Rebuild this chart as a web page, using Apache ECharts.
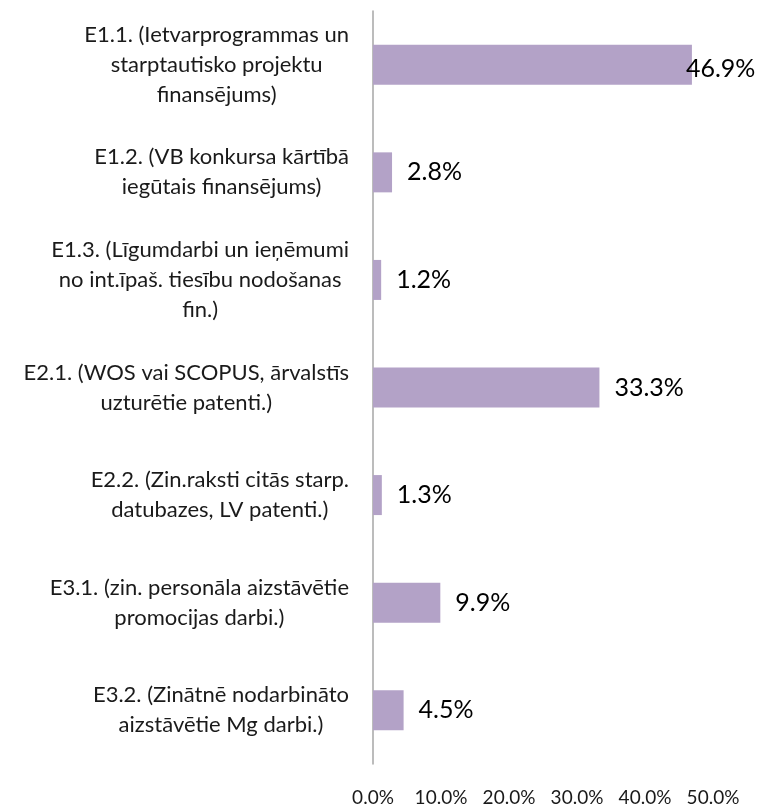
<!DOCTYPE html>
<html>
<head>
<meta charset="utf-8">
<script src="https://cdn.jsdelivr.net/npm/echarts@6/dist/echarts.min.js"></script>
<style>
  html, body { margin: 0; padding: 0; background: #fff; }
  #chart { width: 767px; height: 807px; }
</style>
</head>
<body>
<div id="chart"></div>
<script>
// rādītāji (augšā pirmais)
const categories = [
  "E1.1. (Ietvarprogrammas un\nstarptautisko projektu\nfinansējums)",
  "E1.2. (VB konkursa kārtībā\niegūtais finansējums)",
  "E1.3. (Līgumdarbi un ieņēmumi\nno int.īpaš. tiesību nodošanas\nfin.)",
  "E2.1. (WOS vai SCOPUS, ārvalstīs\nuzturētie patenti.)",
  "E2.2. (Zin.raksti citās starp.\ndatubazes, LV patenti.)",
  "E3.1. (zin. personāla aizstāvētie\npromocijas darbi.)",
  "E3.2. (Zinātnē nodarbināto\naizstāvētie Mg darbi.)"
];
const shares = [46.9, 2.8, 1.2, 33.3, 1.3, 9.9, 4.5];
const xTicks = [0, 10, 20, 30, 40, 50];

const font = "Lato, 'Open Sans', sans-serif";

let chart = echarts.init(document.getElementById("chart"));

chart.setOption({
  animation: false,
  grid: { left: 373, right: 54, top: 11, bottom: 42 },
  xAxis: {
    type: "value",
    min: xTicks[0],
    max: xTicks[xTicks.length - 1],
    interval: 10,
    axisLine: { show: false },
    axisTick: { show: false },
    splitLine: { show: false },
    axisLabel: {
      margin: 24,
      fontFamily: font,
      fontSize: 19,
      color: "#1a1a1a",
      formatter: (v) => v.toFixed(1) + "%"
    }
  },
  yAxis: {
    type: "category",
    inverse: true,
    data: categories,
    axisLine: { lineStyle: { color: "#a6a6a6", width: 1.5 } },
    axisTick: { show: false },
    axisLabel: {
      margin: 24,
      color: "#1a1a1a",
      fontFamily: font,
      fontSize: 22,
      lineHeight: 30,
      // every line centred inside the label block
      formatter: (v) => v.split("\n").map((s) => "{c|" + s + "}").join("\n"),
      rich: {
        c: { align: "center", fontFamily: font, fontSize: 22, lineHeight: 30, color: "#1a1a1a" }
      }
    }
  },
  series: [
    {
      type: "bar",
      barWidth: 40,
      itemStyle: { color: "#b3a2c7" },
      data: shares.map((v, i) => (i === 0 ? { value: v, label: { offset: [-21, 4] } } : v)),
      label: {
        show: true,
        position: "right",
        distance: 15,
        fontFamily: font,
        fontSize: 25,
        color: "#000",
        formatter: (p) => p.value.toFixed(1) + "%"
      }
    }
  ]
});
</script>
</body>
</html>
